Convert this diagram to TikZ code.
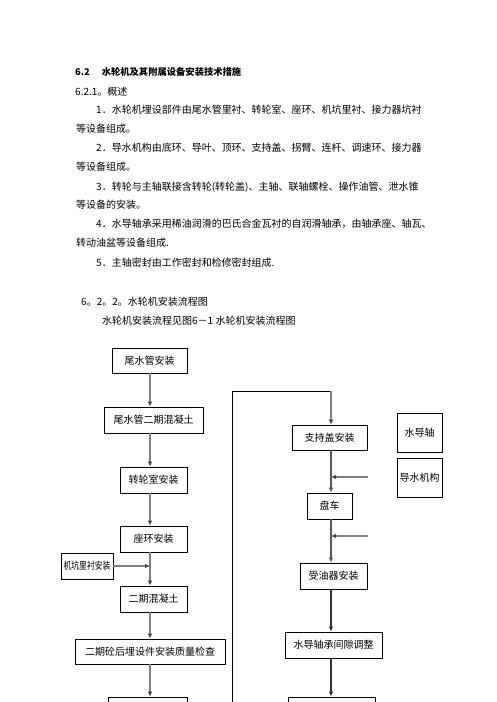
\documentclass[tikz,border=0pt]{standalone}
\usepackage{fontspec}
\setmainfont{Noto Sans CJK SC}
\usetikzlibrary{arrows.meta,positioning}

\tikzset{
  line/.style={anchor=west, inner sep=0pt, font=\fontsize{10}{12}\selectfont},
  stepbox/.style={draw, line width=0.8pt, inner sep=0pt, minimum height=26, font=\fontsize{10}{12}\selectfont},
  flow/.style={draw=gray, line width=1.6pt, -{Latex[length=5pt,width=4.5pt,color=black!75]}},
  thinflow/.style={draw=black!80, line width=1.1pt, -{Latex[length=5pt,width=4.5pt]}},
}

\begin{document}
\begin{tikzpicture}[x=1pt,y=-1pt]
  \useasboundingbox (0,0) rectangle (496,702);

  % text above the chart
  \node[line, font=\fontsize{9.3}{12}\selectfont\bfseries] (title) at (75,72) {6.2\hspace{12pt}水轮机及其附属设备安装技术措施};
  \node[line] (l0) at (75,92) {6.2.1。概述};
  \node[line] (l1) at (96,110) {1．水轮机埋设部件由尾水管里衬、转轮室、座环、机坑里衬、接力器坑衬};
  \node[line] (l1b) at (76,129) {等设备组成。};
  \node[line] (l2) at (96,148) {2．导水机构由底环、导叶、顶环、支持盖、拐臂、连杆、调速环、接力器};
  \node[line] (l2b) at (76,167) {等设备组成。};
  \node[line] (l3) at (96,187) {3．转轮与主轴联接含转轮(转轮盖)、主轴、联轴螺栓、操作油管、泄水锥};
  \node[line] (l3b) at (76,205) {等设备的安装。};
  \node[line] (l4) at (96,224) {4．水导轴承采用稀油润滑的巴氏合金瓦衬的自润滑轴承，由轴承座、轴瓦、};
  \node[line] (l4b) at (76,243) {转动油盆等设备组成.};
  \node[line] (l5) at (96,263) {5．主轴密封由工作密封和检修密封组成.};
  \node[line] (sec) at (81,302) {6。2。2。水轮机安装流程图};
  \node[line] (cap) at (102,321) {水轮机安装流程见图6－1 水轮机安装流程图};

  % left column
  \coordinate (axisL) at (150,0);
  \node[stepbox, minimum width=75, minimum height=25] (tail) at (149.5,360.5) {尾水管安装};
  \node[stepbox, minimum width=99] (tailconc) at (153.5,420) {尾水管二期混凝土};
  \node[stepbox, minimum width=67] (runner) at (153.5,480) {转轮室安装};
  \node[stepbox, minimum width=67] (seat) at (153.5,539) {座环安装};
  \node[stepbox, minimum width=52] (pit) at (87,566) {\scalebox{0.78}[1]{机坑里衬安装}};
  \node[stepbox, minimum width=67] (conc) at (153.5,599) {二期混凝土};
  \node[stepbox, minimum width=150, minimum height=25] (check) at (150,651.5) {二期砼后埋设件安装质量检查};
  \node[stepbox, minimum width=79] (nextL) at (147.5,710) {};

  \draw[flow] (tail.south -| axisL) -- (tailconc.north -| axisL);
  \draw[flow] (tailconc.south -| axisL) -- (runner.north -| axisL);
  \draw[flow] (runner.south -| axisL) -- (seat.north -| axisL);
  \draw[flow] (seat.south -| axisL) -- (conc.north -| axisL);
  \draw[flow] (pit.east) -- (pit.east -| axisL);
  \draw[flow] (conc.south -| axisL) -- (check.north -| axisL);
  \draw[flow] (check.south -| axisL) -- (nextL.north -| axisL);

  % right column
  \coordinate (axisR) at (331,0);
  \coordinate (corner) at (232.5,391);
  \coordinate (cornerR) at (331,391);
  \node[stepbox, minimum width=75, minimum height=25] (support) at (329.5,437.5) {支持盖安装};
  \node[stepbox, minimum width=45] (turn) at (329.5,506) {盘车};
  \node[stepbox, minimum width=67] (oil) at (333.5,576) {受油器安装};
  \node[stepbox, minimum width=97] (gap) at (333.5,645) {水导轴承间隙调整};
  \node[stepbox, minimum width=87] (nextR) at (331.5,710) {};
  \node[stepbox, minimum width=45, minimum height=39] (shaft) at (419.5,432.5) {水导轴};
  \node[stepbox, minimum width=45, minimum height=39] (guide) at (419.5,477.5) {导水机构};
  \coordinate (in1) at (368,477);
  \coordinate (in2) at (368,536);

  \draw[line width=0.8pt] (232.5,712) -- (corner) -- (cornerR);
  \draw[flow] (cornerR) -- (support.north -| axisR);
  \draw[thinflow, draw=black!65] (support.south -| axisR) -- (turn.north -| axisR);
  \draw[flow] (in1) -- (in1 -| axisR);
  \draw[thinflow, draw=black!65] (turn.south -| axisR) -- (oil.north -| axisR);
  \draw[flow] (in2) -- (in2 -| axisR);
  \draw[thinflow] (oil.south -| axisR) -- (gap.north -| axisR);
  \draw[thinflow] (gap.south -| axisR) -- (nextR.north -| axisR);
\end{tikzpicture}
\end{document}
